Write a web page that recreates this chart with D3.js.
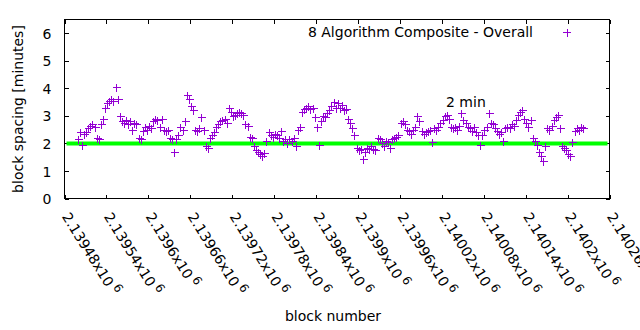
<!DOCTYPE html>
<html><head><meta charset="utf-8">
<script src="https://cdn.jsdelivr.net/npm/d3@7"></script>
<style>
html,body{margin:0;padding:0;background:#fff;}
text{font-family:"DejaVu Sans",sans-serif;fill:#000;}
</style></head>
<body><svg id="chart" width="640" height="330"></svg>
<script>
// ---- data ----
const seriesName = "8 Algorithm Composite - Overall";
const blockStart = 2139499;   // first block plotted
const blockStep = 3;          // blocks between consecutive samples
const spacingMinutes = [
2.15,2.4,1.95,2.35,2.4,2.55,2.65,2.7,2.6,2.2,
2.15,2.7,2.9,3.3,3.45,3.55,3.6,3.55,4.05,3.6,
3.0,2.8,2.75,2.85,2.7,2.8,2.5,2.75,2.7,2.2,
2.15,2.45,2.6,2.5,2.65,2.55,2.8,2.9,2.85,2.6,
2.9,2.5,2.45,2.5,2.2,2.15,1.7,2.15,2.3,2.6,
2.5,2.8,3.75,3.6,3.35,3.2,2.5,2.45,2.55,2.95,
2.5,1.9,1.85,2.2,2.3,2.4,2.6,2.7,2.8,2.85,
2.9,2.75,3.3,3.15,3.0,3.05,3.1,3.15,3.1,3.05,
2.7,2.65,2.25,2.2,1.9,1.75,1.7,1.6,1.55,1.65,
2.1,2.4,2.3,2.25,2.35,2.3,2.2,2.45,2.1,2.15,
2.0,2.15,2.1,2.2,1.9,2.5,2.6,3.15,3.25,3.3,
3.35,3.25,3.3,2.95,2.6,1.95,2.8,3.0,2.95,3.1,
3.2,3.35,3.5,3.3,3.45,3.3,3.4,3.2,3.25,2.9,
2.75,2.55,2.3,1.85,1.75,1.8,1.45,1.7,1.85,1.8,
1.9,1.8,1.75,2.2,2.15,2.0,1.9,2.1,2.05,1.85,
2.15,2.2,2.25,2.3,2.75,2.8,2.7,2.5,2.45,2.35,
2.5,2.6,3.0,2.8,2.45,2.35,2.4,2.45,2.5,2.05,
2.55,2.5,2.6,2.75,2.85,3.0,3.05,2.9,2.6,2.55,
2.6,2.5,2.65,3.1,2.85,2.75,2.6,2.55,2.45,2.6,
2.4,2.3,1.95,2.3,2.5,2.6,3.1,2.75,2.7,2.55,
2.45,2.35,2.4,2.1,2.55,2.6,2.55,2.7,2.65,2.85,
3.05,3.15,3.2,2.9,2.75,2.6,2.85,2.2,2.1,1.95,
1.7,1.55,1.35,1.9,2.55,2.5,2.65,2.85,2.95,3.05,
2.55,1.9,1.85,1.75,1.6,1.55,2.05,2.45,2.55,2.5,
2.6,2.55
];
const referenceLabel = "2 min";
const referenceValue = 2;
const xDomain = [2139480, 2140260];
const xTickValues = [2139480,2139540,2139600,2139660,2139720,2139780,2139840,2139900,2139960,2140020,2140080,2140140,2140200,2140260];
const yDomain = [0, 6.5];
const yTickValues = [0,1,2,3,4,5,6];
const xTitle = "block number";
const yTitle = "block spacing [minutes]";

// ---- layout ----
const svg = d3.select("#chart");
const FONT = "DejaVu Sans, sans-serif";
const L = 64.5, R = 609.5, T = 19.5, B = 198.5;
const x = d3.scaleLinear().domain(xDomain).range([L, R]);
const y = d3.scaleLinear().domain(yDomain).range([B, T]);
const purple = "#9400d3";

const points = spacingMinutes.map((v, i) => ({block: blockStart + i * blockStep, v}));

// axes (ticks inward, mirrored)
const tl = 4;
svg.append("g").attr("transform", `translate(0,${B})`)
  .call(d3.axisBottom(x).tickValues(xTickValues).tickSize(-tl).tickFormat(""))
  .call(g => { g.select(".domain").remove(); });
svg.append("g").attr("transform", `translate(0,${T})`)
  .call(d3.axisTop(x).tickValues(xTickValues).tickSize(-tl).tickFormat(""))
  .call(g => { g.select(".domain").remove(); });
svg.append("g").attr("transform", `translate(${L},0)`)
  .call(d3.axisLeft(y).tickValues(yTickValues).tickSize(-tl).tickPadding(13).tickFormat(d3.format("d")))
  .call(g => { g.select(".domain").remove();
    g.selectAll("text").style("font-size","14px").style("font-family", FONT).attr("dy","0.36em"); });
svg.append("g").attr("transform", `translate(${R},0)`)
  .call(d3.axisRight(y).tickValues(yTickValues).tickSize(-tl).tickFormat(""))
  .call(g => { g.select(".domain").remove(); });
svg.selectAll(".tick line").attr("stroke", "#000").attr("shape-rendering", "crispEdges");

// x tick labels rotated
const xl = svg.append("g");
xTickValues.forEach(t => {
  const mant = String(+(t / 1e6).toFixed(5));
  const tx = xl.append("text")
    .attr("transform", `translate(${x(t) - 3},${B + 18}) rotate(58)`)
    .style("font-size", "14px");
  tx.append("tspan").text(mant + "x10");
  tx.append("tspan").attr("dx", 3).attr("dy", -6).style("font-size", "12px").text("6");
});

// frame
svg.append("rect").attr("x", L).attr("y", T).attr("width", R - L).attr("height", B - T)
  .attr("fill", "none").attr("stroke", "#000").attr("stroke-width", 1).attr("shape-rendering", "crispEdges");

// reference line
svg.append("line")
  .attr("x1", x(xDomain[0]) + 2).attr("x2", x(xDomain[1]) - 2)
  .attr("y1", y(referenceValue)).attr("y2", y(referenceValue))
  .attr("stroke", "#00ff00").attr("stroke-width", 4);

// points as "+"
const s = 4;
svg.append("g").attr("shape-rendering", "crispEdges").selectAll("path").data(points).join("path")
  .attr("d", d => {
    const px = Math.round(x(d.block)) + 0.5, py = Math.round(y(d.v)) + 0.5;
    return `M${px - s},${py}H${px + s}M${px},${py - s}V${py + s}`;
  })
  .attr("stroke", purple).attr("stroke-width", 1).attr("fill", "none");

// label "2 min"
svg.append("text").attr("x", 446).attr("y", 107).style("font-size", "14px").text(referenceLabel);

// legend
svg.append("text").attr("x", 533).attr("y", 37).attr("text-anchor", "end").style("font-size", "14px").text(seriesName);
svg.append("path").attr("d", `M${563},${32.5}H${571}M${567},${28.5}V${36.5}`).attr("stroke", purple).attr("stroke-width", 1).attr("shape-rendering", "crispEdges");

// axis titles
svg.append("text").attr("x", 333).attr("y", 321).attr("text-anchor", "middle").style("font-size", "14px").text(xTitle);
svg.append("text").attr("transform", `translate(23,109) rotate(-90)`).attr("text-anchor", "middle").style("font-size", "14px").text(yTitle);
</script></body></html>
